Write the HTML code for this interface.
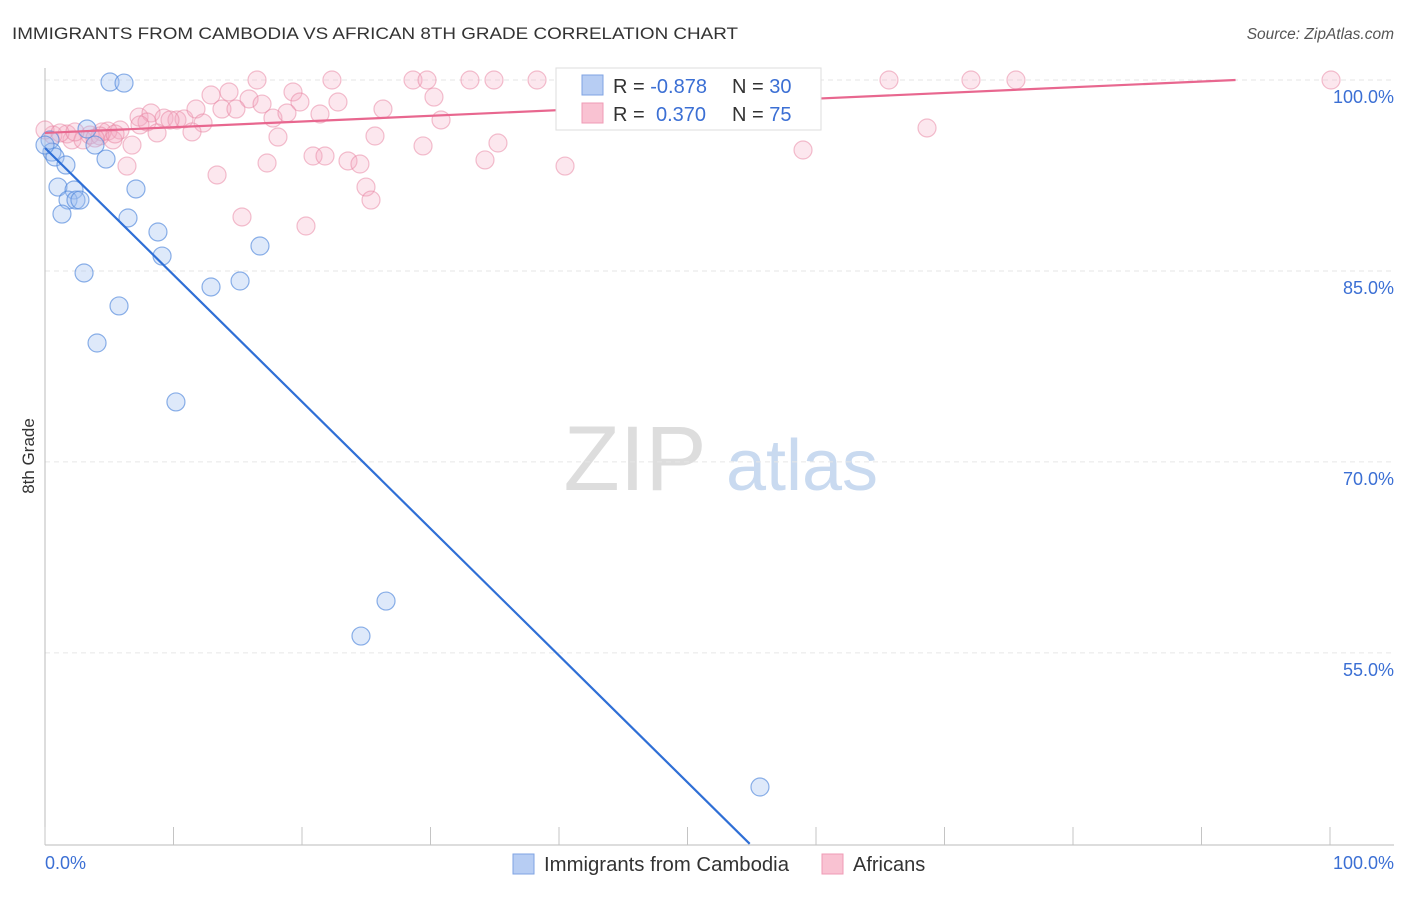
<!DOCTYPE html>
<html><head><meta charset="utf-8"><style>
body{margin:0;background:#fff;font-family:"Liberation Sans",sans-serif;}
svg text{font-family:"Liberation Sans",sans-serif;}
</style></head><body>
<svg id="chart" width="1406" height="892">
<text x="12" y="39" font-size="17" fill="#333" textLength="726" lengthAdjust="spacingAndGlyphs">IMMIGRANTS FROM CAMBODIA VS AFRICAN 8TH GRADE CORRELATION CHART</text>
<text x="1394" y="39" font-size="15.5" fill="#555" font-style="italic" text-anchor="end">Source: ZipAtlas.com</text>
<g>
<text x="635" y="490" font-size="92" fill="#ddd" font-family="Liberation Serif,serif" text-anchor="middle">ZIP</text>
<text x="802" y="490" font-size="72" fill="#c9daf0" text-anchor="middle">atlas</text>
</g>
<g id="grid"></g>
<g id="axes"></g>
<g id="pts"></g>
<g id="lines"></g>
<text transform="translate(34,456) rotate(-90)" font-size="17" fill="#333" text-anchor="middle">8th Grade</text>
<text x="45" y="869" font-size="18" fill="#3b6fd4">0.0%</text>
<text x="1394" y="869" font-size="18" fill="#3b6fd4" text-anchor="end">100.0%</text>
<g>
<rect x="556" y="68" width="265" height="62" fill="#fff" stroke="#ddd"/>
<rect x="582" y="75" width="21" height="20" fill="#b7cdf3" stroke="#7fa3e3"/>
<rect x="582" y="103" width="21" height="20" fill="#f9c2d2" stroke="#ef9bb5"/>
<text x="613" y="93" font-size="20" fill="#333">R = <tspan fill="#3b6fd4">-0.878</tspan></text>
<text x="732" y="93" font-size="20" fill="#333">N = <tspan fill="#3b6fd4">30</tspan></text>
<text x="613" y="121" font-size="20" fill="#333">R = <tspan fill="#3b6fd4" x="656">0.370</tspan></text>
<text x="732" y="121" font-size="20" fill="#333">N = <tspan fill="#3b6fd4">75</tspan></text>
</g>
<g>
<rect x="513" y="854" width="21" height="20" fill="#b7cdf3" stroke="#7fa3e3"/>
<text x="544" y="871" font-size="20" fill="#333" textLength="245" lengthAdjust="spacingAndGlyphs">Immigrants from Cambodia</text>
<rect x="822" y="854" width="21" height="20" fill="#f9c2d2" stroke="#ef9bb5"/>
<text x="853" y="871" font-size="20" fill="#333">Africans</text>
</g>
</svg>
<script>
const yTicks=[100,85,70,55];
const yTickLabels=["100.0%","85.0%","70.0%","55.0%"];
const blueXpx=[110,124,50,52,55,87,66,95,106,58,74,68,76,62,136,128,158,162,84,119,97,211,240,260,176,386,361,760,45,80];
const blueYpx=[82,83,140,152,157,129,165,145,159,187,190,200,200,214,189,218,232,256,273,306,343,287,281,246,402,601,636,787,145,200];
const pinkXpx=[257,332,413,427,211,229,249,262,293,300,338,383,434,222,236,273,287,320,139,151,164,177,184,196,203,147,157,192,278,375,423,120,108,102,67,53,72,83,132,113,127,217,313,325,348,360,366,371,267,242,306,441,470,485,498,565,803,927,718,889,971,1016,1331,494,537,580,45,60,90,100,115,170,140,95,75];
const pinkYpx=[80,80,80,80,95,92,99,104,92,102,102,109,97,109,109,118,113,114,117,113,118,120,119,109,123,122,133,132,137,136,146,130,131,132,134,135,140,140,145,140,166,175,156,156,161,164,187,200,163,217,226,120,80,160,143,166,150,128,80,80,80,80,80,80,80,88,130,133,135,136,134,120,125,138,132];
const blueX=blueXpx.map(p=>+((p-45)/12.85).toFixed(2)), blueY=blueYpx.map(p=>+(100-(p-80)/12.73).toFixed(2));
const pinkX=pinkXpx.map(p=>+((p-45)/12.85).toFixed(2)), pinkY=pinkYpx.map(p=>+(100-(p-80)/12.73).toFixed(2));
const blueTrend=[94.66,-0.9967];
const pinkTrend=[95.84,0.0449];
const X=v=>45+v*12.85, Y=v=>80+(100-v)*12.73;
const NS="http://www.w3.org/2000/svg";
function mk(t,a,p){const e=document.createElementNS(NS,t);for(const k in a)e.setAttribute(k,a[k]);document.getElementById(p).appendChild(e);return e;}
yTicks.forEach((t,i)=>{
 const l=mk('line',{x1:45,x2:1394,y1:Y(t),y2:Y(t),stroke:'#e6e6e6','stroke-dasharray':'5,4'},'grid');
 
 
 const tx=mk('text',{x:1394,y:Y(t)+23,'font-size':18,fill:'#3b6fd4','text-anchor':'end'},'grid');
 tx.textContent=yTickLabels[i];
 
 
});
const ax=mk('line',{x1:45,x2:45,y1:68,y2:845,stroke:'#bbb'},'axes');


const bx=mk('line',{x1:45,x2:1394,y1:845,y2:845,stroke:'#bbb'},'axes');


for(let i=0;i<=10;i++){const t=mk('line',{x1:X(i*10),x2:X(i*10),y1:827,y2:845,stroke:'#c4c4c4'},'axes');
 
 }
pinkX.forEach((x,i)=>{const c=mk('circle',{cx:X(x),cy:Y(pinkY[i]),r:9,fill:'rgba(244,170,195,0.28)',stroke:'rgba(232,130,160,0.5)','stroke-width':1.2},'pts');
 
 });
blueX.forEach((x,i)=>{const c=mk('circle',{cx:X(x),cy:Y(blueY[i]),r:9,fill:'rgba(160,192,240,0.35)',stroke:'rgba(80,135,220,0.65)','stroke-width':1.2},'pts');
 
 });
const bEnd=(40-blueTrend[0])/blueTrend[1];
const bl=mk('line',{x1:X(0),y1:Y(blueTrend[0]),x2:X(bEnd),y2:Y(40),stroke:'#2f6fd6','stroke-width':2.2},'lines');


const pEnd=Math.min(100,(100-pinkTrend[0])/pinkTrend[1]);
const pl=mk('line',{x1:X(0),y1:Y(pinkTrend[0]),x2:X(pEnd),y2:Y(pinkTrend[0]+pinkTrend[1]*pEnd),stroke:'#e8678f','stroke-width':2.2},'lines');


</script>
</body></html>
